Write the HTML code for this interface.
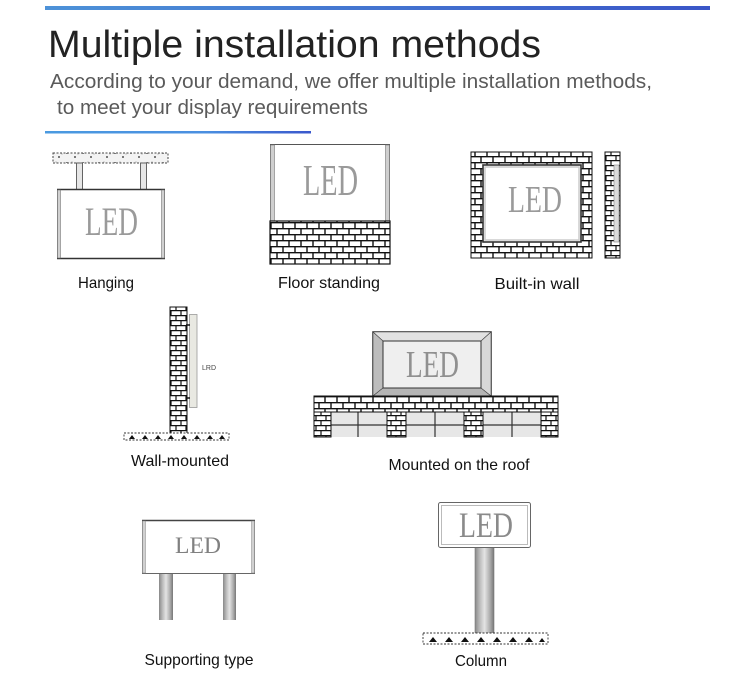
<!DOCTYPE html>
<html><head><meta charset="utf-8"><style>
html,body{margin:0;padding:0;background:#fff;}
svg{display:block;}
</style></head><body>
<svg width="750" height="680" viewBox="0 0 750 680" xmlns="http://www.w3.org/2000/svg">
<defs>
<linearGradient id="gTop" x1="0" x2="1" y1="0" y2="0"><stop offset="0" stop-color="#4d92d8"/><stop offset="1" stop-color="#3a56c8"/></linearGradient>
<linearGradient id="gBot" x1="0" x2="1" y1="0" y2="0"><stop offset="0" stop-color="#4a9ae0"/><stop offset="0.6" stop-color="#4a8fe0"/><stop offset="1" stop-color="#3a58cc"/></linearGradient>
<linearGradient id="cyl" x1="0" x2="1" y1="0" y2="0"><stop offset="0" stop-color="#888"/><stop offset="0.25" stop-color="#bbb"/><stop offset="0.5" stop-color="#e4e4e4"/><stop offset="0.8" stop-color="#aaa"/><stop offset="1" stop-color="#777"/></linearGradient>
<pattern id="brick" width="12" height="12" patternUnits="userSpaceOnUse">
<rect width="12" height="12" fill="#fff"/>
<path d="M0 0.7H12M0 6.7H12M1 0V6.7M7 6.7V12" stroke="#111" stroke-width="1.4" fill="none"/>
</pattern>
<pattern id="brickS" width="10" height="10" patternUnits="userSpaceOnUse">
<rect width="10" height="10" fill="#fff"/>
<path d="M0 0.6H10M0 5.6H10M1 0V5.6M6 5.6V10" stroke="#111" stroke-width="1.2" fill="none"/>
</pattern>
<pattern id="ceil" width="16" height="10" patternUnits="userSpaceOnUse">
<rect width="16" height="10" fill="#f3f3f3"/>
<circle cx="3" cy="3" r="0.9" fill="#222"/>
<circle cx="11" cy="7" r="0.9" fill="#222"/>
<circle cx="8" cy="2" r="0.5" fill="#777"/>
<circle cx="14" cy="4" r="0.5" fill="#777"/>
</pattern>
</defs>

<!-- header -->
<rect x="45" y="6" width="665" height="4" fill="url(#gTop)"/>
<text x="48" y="57" font-family="Liberation Sans, sans-serif" font-size="38" fill="#222" textLength="493" lengthAdjust="spacingAndGlyphs">Multiple installation methods</text>
<text x="50" y="88" font-family="Liberation Sans, sans-serif" font-size="20" fill="#5a5a5a" textLength="602" lengthAdjust="spacingAndGlyphs">According to your demand, we offer multiple installation methods,</text>
<text x="57" y="114" font-family="Liberation Sans, sans-serif" font-size="20" fill="#5a5a5a" textLength="311" lengthAdjust="spacingAndGlyphs">to meet your display requirements</text>
<rect x="45" y="131" width="266" height="2.5" fill="url(#gBot)"/>

<!-- Hanging -->
<rect x="53" y="153" width="115" height="10" fill="url(#ceil)" stroke="#444" stroke-width="1" stroke-dasharray="2 1.5"/>
<rect x="76.5" y="163" width="6" height="27" fill="#e6e6e6" stroke="#555" stroke-width="0.9"/>
<rect x="140.5" y="163" width="6" height="27" fill="#e6e6e6" stroke="#555" stroke-width="0.9"/>
<rect x="57.5" y="189.5" width="107" height="69" fill="#fff" stroke="#666" stroke-width="1"/>
<line x1="57" y1="189.5" x2="165" y2="189.5" stroke="#333" stroke-width="1.6"/>
<line x1="57" y1="258.5" x2="165" y2="258.5" stroke="#333" stroke-width="1.6"/>
<rect x="57.5" y="190" width="3" height="68" fill="#d0d0d0" stroke="#777" stroke-width="0.6"/>
<rect x="161.5" y="190" width="3" height="68" fill="#d0d0d0" stroke="#777" stroke-width="0.6"/>
<text x="85" y="235" font-family="Liberation Serif, serif" font-size="40" fill="#9a9a9a" textLength="53" lengthAdjust="spacingAndGlyphs">LED</text>
<text x="106" y="288" text-anchor="middle" font-family="Liberation Sans, sans-serif" font-size="16" fill="#111" textLength="56" lengthAdjust="spacingAndGlyphs">Hanging</text>

<!-- Floor standing -->
<rect x="270.5" y="144.5" width="119" height="77" fill="#fff" stroke="#555" stroke-width="1"/>
<rect x="270.5" y="145" width="4" height="76" fill="#cfcfcf" stroke="#777" stroke-width="0.6"/>
<rect x="385.5" y="145" width="4" height="76" fill="#cfcfcf" stroke="#777" stroke-width="0.6"/>
<rect x="270" y="221" width="120" height="43" fill="url(#brick)" stroke="#111" stroke-width="1.2"/>
<text x="303" y="195" font-family="Liberation Serif, serif" font-size="44" fill="#9a9a9a" textLength="55" lengthAdjust="spacingAndGlyphs">LED</text>
<text x="329" y="288" text-anchor="middle" font-family="Liberation Sans, sans-serif" font-size="16" fill="#111" textLength="102" lengthAdjust="spacingAndGlyphs">Floor standing</text>

<!-- Built-in wall -->
<rect x="471" y="152" width="121" height="106" fill="url(#brick)" stroke="#111" stroke-width="1"/>
<rect x="483" y="165" width="98" height="77" fill="#fff" stroke="#333" stroke-width="1.6"/>
<rect x="485" y="167" width="94" height="73" fill="none" stroke="#ccc" stroke-width="1.5"/>
<text x="508" y="212" font-family="Liberation Serif, serif" font-size="38" fill="#9a9a9a" textLength="54" lengthAdjust="spacingAndGlyphs">LED</text>
<rect x="605" y="152" width="15" height="106" fill="url(#brickS)" stroke="#111" stroke-width="1"/>
<rect x="614" y="165" width="5" height="77" fill="#dcdcdc" stroke="#888" stroke-width="0.6"/>
<text x="537" y="289" text-anchor="middle" font-family="Liberation Sans, sans-serif" font-size="16" fill="#111" textLength="85" lengthAdjust="spacingAndGlyphs">Built-in wall</text>

<!-- Wall-mounted -->
<rect x="170" y="307" width="17" height="127" fill="url(#brickS)" stroke="#111" stroke-width="1"/>
<rect x="189.5" y="314.5" width="7.5" height="93" fill="#e9e9e2" stroke="#999" stroke-width="0.8"/>
<path d="M186 325H190M186 398H190" stroke="#111" stroke-width="1.5"/>
<text x="202" y="370" font-family="Liberation Sans, sans-serif" font-size="7" fill="#444">LRD</text>
<rect x="124" y="433" width="105" height="7" fill="#fff" stroke="#333" stroke-width="0.9" stroke-dasharray="2 1.5"/>
<path d="M129 439L132 435L135 439ZM142 439L145 435L148 439ZM155 439L158 435L161 439ZM168 439L171 435L174 439ZM181 439L184 435L187 439ZM194 439L197 435L200 439ZM207 439L210 435L213 439ZM219 439L222 435L225 439Z" fill="#111"/>
<text x="180" y="466" text-anchor="middle" font-family="Liberation Sans, sans-serif" font-size="16" fill="#111" textLength="98" lengthAdjust="spacingAndGlyphs">Wall-mounted</text>

<!-- Mounted on the roof -->
<rect x="373" y="332" width="118" height="64" fill="#cfcfcf" stroke="#222" stroke-width="1.5"/>
<polygon points="373,332 491,332 481,341 383,341" fill="#e2e2e2" stroke="#444" stroke-width="0.6"/>
<polygon points="373,332 383,341 383,388 373,396" fill="#bdbdbd" stroke="#444" stroke-width="0.6"/>
<polygon points="491,332 481,341 481,388 491,396" fill="#d8d8d8" stroke="#444" stroke-width="0.6"/>
<polygon points="373,396 383,388 481,388 491,396" fill="#b5b5b5" stroke="#444" stroke-width="0.6"/>
<rect x="383" y="341" width="98" height="47" fill="#efefef" stroke="#333" stroke-width="1"/>
<text x="406" y="377" font-family="Liberation Serif, serif" font-size="38" fill="#909090" textLength="53" lengthAdjust="spacingAndGlyphs">LED</text>
<rect x="331" y="412" width="56" height="25" fill="#e7e7e7"/>
<rect x="406" y="412" width="58" height="25" fill="#e7e7e7"/>
<rect x="483" y="412" width="58" height="25" fill="#e7e7e7"/>
<path d="M331 425H541M358 412V437M435 412V437M512 412V437" stroke="#333" stroke-width="1.2"/>
<rect x="314" y="396" width="244" height="16" fill="url(#brick)" stroke="#111" stroke-width="1"/>
<rect x="314" y="412" width="17" height="25" fill="url(#brickS)" stroke="#111" stroke-width="1"/>
<rect x="387" y="412" width="19" height="25" fill="url(#brickS)" stroke="#111" stroke-width="1"/>
<rect x="464" y="412" width="19" height="25" fill="url(#brickS)" stroke="#111" stroke-width="1"/>
<rect x="541" y="412" width="17" height="25" fill="url(#brickS)" stroke="#111" stroke-width="1"/>
<text x="459" y="470" text-anchor="middle" font-family="Liberation Sans, sans-serif" font-size="16" fill="#111" textLength="141" lengthAdjust="spacingAndGlyphs">Mounted on the roof</text>

<!-- Supporting type -->
<rect x="159" y="573" width="14" height="47" fill="url(#cyl)"/>
<rect x="223" y="573" width="13" height="47" fill="url(#cyl)"/>
<rect x="142.5" y="520.5" width="112" height="53" fill="#fff" stroke="#666" stroke-width="1"/>
<line x1="142" y1="520.5" x2="255" y2="520.5" stroke="#444" stroke-width="1.4"/>
<rect x="142.5" y="521" width="3" height="52" fill="#d0d0d0" stroke="#888" stroke-width="0.5"/>
<rect x="251.5" y="521" width="3" height="52" fill="#d0d0d0" stroke="#888" stroke-width="0.5"/>
<text x="175" y="553" font-family="Liberation Serif, serif" font-size="23" fill="#808080" textLength="46" lengthAdjust="spacingAndGlyphs">LED</text>
<text x="199" y="665" text-anchor="middle" font-family="Liberation Sans, sans-serif" font-size="16" fill="#111" textLength="109" lengthAdjust="spacingAndGlyphs">Supporting type</text>

<!-- Column -->
<rect x="475" y="547" width="19" height="87" fill="url(#cyl)" stroke="#777" stroke-width="0.6"/>
<rect x="438.5" y="502.5" width="92" height="45" rx="2" fill="#fff" stroke="#666" stroke-width="1"/>
<rect x="441.5" y="505.5" width="86" height="39" fill="none" stroke="#bbb" stroke-width="1"/>
<text x="459" y="537" font-family="Liberation Serif, serif" font-size="36" fill="#8a8a8a" textLength="54" lengthAdjust="spacingAndGlyphs">LED</text>
<rect x="423" y="633" width="125" height="11" fill="#fff" stroke="#333" stroke-width="0.9" stroke-dasharray="2 1.5"/>
<path d="M429 642L433 637L437 642ZM445 642L449 637L453 642ZM461 642L465 637L469 642ZM477 642L481 637L485 642ZM493 642L497 637L501 642ZM509 642L513 637L517 642ZM525 642L529 637L533 642ZM539 642L542 638L545 642Z" fill="#111"/>
<text x="481" y="666" text-anchor="middle" font-family="Liberation Sans, sans-serif" font-size="16" fill="#111" textLength="52" lengthAdjust="spacingAndGlyphs">Column</text>
</svg>
</body></html>
